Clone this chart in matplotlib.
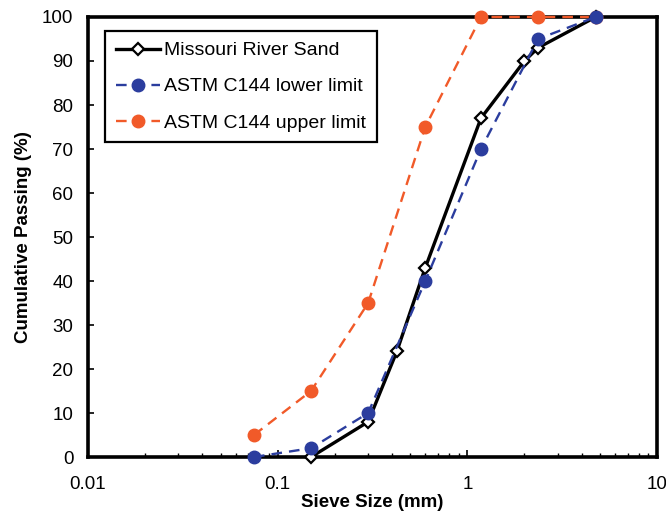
import numpy as np
import matplotlib
matplotlib.use("Agg")
import matplotlib.pyplot as plt
from matplotlib.ticker import LogLocator, NullFormatter

plt.rcParams['font.family'] = ['Liberation Sans', 'DejaVu Sans']

# sieve sizes (mm) and cumulative passing (%)
sand_size = [0.15, 0.3, 0.425, 0.6, 1.18, 2.0, 2.36, 4.75]
sand_pass = [0, 8, 24, 43, 77, 90, 93, 100]

astm_size = [0.075, 0.15, 0.3, 0.6, 1.18, 2.36, 4.75]
lower_pass = [0, 2, 10, 40, 70, 95, 100]
upper_pass = [5, 15, 35, 75, 100, 100, 100]

blue = '#2b3d9e'
orange = '#f15a29'

fig = plt.figure(figsize=(6.66, 5.15), dpi=100)
ax = fig.add_axes([88/666, 1 - 457/515, (657-88)/666, (457-17)/515])

ax.plot(sand_size, sand_pass, '-', color='black', lw=2.4, marker='D', ms=6.5,
        mfc='white', mec='black', mew=1.6, label='Missouri River Sand',
        zorder=3.5, clip_on=False)
ax.plot(astm_size, lower_pass, '--', color=blue, lw=1.7, marker='o', ms=9,
        mfc=blue, mec=blue, label='ASTM C144 lower limit', zorder=4,
        dashes=(4.5, 3), clip_on=False)
ax.plot(astm_size, upper_pass, '--', color=orange, lw=1.7, marker='o', ms=9,
        mfc=orange, mec=orange, label='ASTM C144 upper limit', zorder=3,
        dashes=(4.5, 3), clip_on=False)

ax.set_xscale('log')
ax.set_xlim(0.01, 10)
ax.set_ylim(0, 100)
ax.set_yticks(np.arange(0, 101, 10))
ax.set_xticks([0.01, 0.1, 1, 10])
ax.set_xticklabels(['0.01', '0.1', '1', '10'])
ax.xaxis.set_minor_locator(LogLocator(base=10, subs=np.arange(2, 10)))
ax.xaxis.set_minor_formatter(NullFormatter())

ax.tick_params(axis='both', which='major', direction='in', labelsize=13.5,
               length=5, width=1.2)
ax.tick_params(axis='x', which='major', pad=13.5)
ax.tick_params(axis='y', which='major', pad=10.5, length=4)
ax.tick_params(axis='x', which='minor', direction='in', length=3, width=1.0)

for s in ax.spines.values():
    s.set_linewidth(2.6)

ax.set_xlabel('Sieve Size (mm)', fontsize=13.5, fontweight='bold', labelpad=1)
ax.set_ylabel('Cumulative Passing (%)', fontsize=13.5, fontweight='bold', labelpad=7)

leg = ax.legend(loc='upper left', bbox_to_anchor=(0.03, 0.968), fontsize=14,
                frameon=True, fancybox=False, edgecolor='black', framealpha=1,
                handlelength=2.3, borderpad=0.55, labelspacing=0.95,
                handletextpad=0.2, borderaxespad=0)
leg.get_frame().set_linewidth(1.6)

fig.savefig('out.png', dpi=100)
